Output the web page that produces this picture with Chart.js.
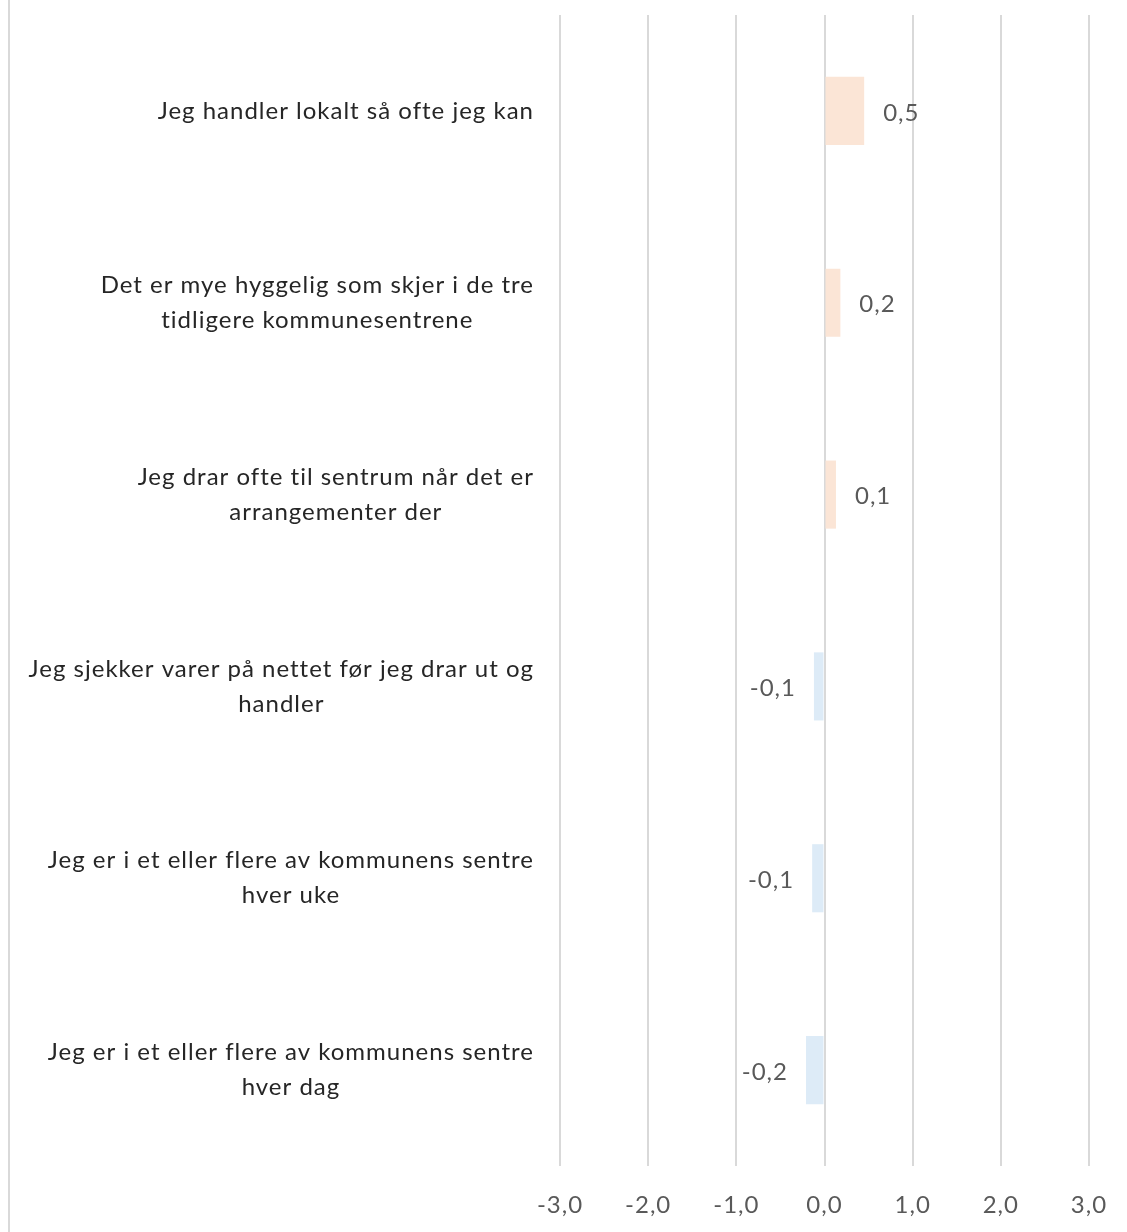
<!DOCTYPE html>
<html>
<head>
<meta charset="utf-8">
<script src="https://cdn.jsdelivr.net/npm/chart.js@4/dist/chart.umd.min.js"></script>
<style>
html,body{margin:0;padding:0;background:#fff;}
#wrap{width:1127px;height:1232px;position:relative;}
</style>
</head>
<body>
<div id="wrap"><canvas id="c" width="1127" height="1232"></canvas></div>
<script>
const categories = [
  ["Jeg handler lokalt så ofte jeg kan"],
  ["Det er mye hyggelig som skjer i de tre", "tidligere kommunesentrene"],
  ["Jeg drar ofte til sentrum når det er", "arrangementer der"],
  ["Jeg sjekker varer på nettet før jeg drar ut og", "handler"],
  ["Jeg er i et eller flere av kommunens sentre", "hver uke"],
  ["Jeg er i et eller flere av kommunens sentre", "hver dag"]
];
const values = [0.45, 0.18, 0.13, -0.12, -0.14, -0.21];
const xTicks = [-3, -2, -1, 0, 1, 2, 3];

const POS = '#FBE5D6', NEG = '#DDEBF7';
const FONT = 'Lato, "Open Sans", sans-serif';
const fmt = v => (Math.round(v * 10) / 10).toFixed(1).replace('.', ',');

const labelPlugin = {
  id: 'customLabels',
  beforeDraw(chart) {
    chart.ctx.letterSpacing = '1px';
  },
  afterDraw(chart) {
    const ctx = chart.ctx;
    const y = chart.scales.y, x = chart.scales.x;
    ctx.save();
    ctx.letterSpacing = '1px';
    // left border line
    ctx.strokeStyle = '#D9D9D9';
    ctx.lineWidth = 2;
    ctx.beginPath(); ctx.moveTo(9, 0); ctx.lineTo(9, 1232); ctx.stroke();
    // category labels
    ctx.font = '24px ' + FONT;
    ctx.fillStyle = '#262626';
    ctx.textBaseline = 'middle';
    ctx.textAlign = 'center';
    const lh = 35;
    categories.forEach((lines, i) => {
      const cy = y.getPixelForValue(i);
      const widest = Math.max(...lines.map(l => ctx.measureText(l).width));
      const cx = 534 - widest / 2;
      const top = cy - (lines.length - 1) * lh / 2;
      lines.forEach((l, j) => ctx.fillText(l, cx, top + j * lh));
    });
    // value labels
    ctx.fillStyle = '#595959';
    const meta = chart.getDatasetMeta(0);
    meta.data.forEach((bar, i) => {
      const v = values[i];
      const px = x.getPixelForValue(v);
      if (v >= 0) { ctx.textAlign = 'left'; ctx.fillText(fmt(v), px + 19, bar.y + 2); }
      else { ctx.textAlign = 'right'; ctx.fillText(fmt(v), px - 18, bar.y + 2); }
    });
    ctx.restore();
  }
};

new Chart(document.getElementById('c'), {
  type: 'bar',
  data: {
    labels: categories.map(c => c.join(' ')),
    datasets: [{
      data: values,
      backgroundColor: values.map(v => v >= 0 ? POS : NEG),
      borderWidth: 0,
      categoryPercentage: 1,
      barPercentage: 0.355
    }]
  },
  options: {
    indexAxis: 'y',
    responsive: false,
    animation: false,
    layout: { padding: { left: 0, right: 38, top: 15, bottom: 0 } },
    plugins: { legend: { display: false }, tooltip: { enabled: false } },
    scales: {
      x: {
        min: -3, max: 3,
        afterBuildTicks(s) { s.ticks = xTicks.map(v => ({ value: v })); },
        afterFit(s) { s.height = 66; s.paddingLeft = 0; s.paddingRight = 0; },
        border: { display: false },
        grid: { color: '#D9D9D9', lineWidth: 2, drawTicks: false },
        ticks: {
          padding: 25,
          color: '#595959',
          font: { family: FONT, size: 24 },
          callback: v => v.toFixed(1).replace('.', ',')
        }
      },
      y: {
        afterFit(s) { s.width = 560; },
        border: { display: false },
        grid: { display: false },
        ticks: { display: false }
      }
    }
  },
  plugins: [labelPlugin]
});
</script>
</body>
</html>
